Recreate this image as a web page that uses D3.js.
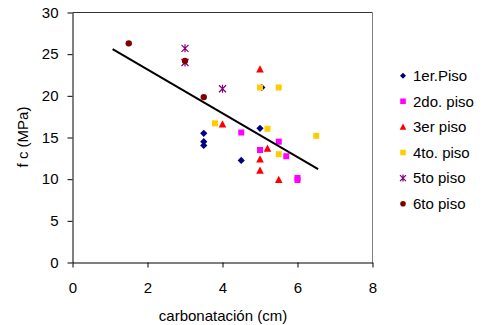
<!DOCTYPE html>
<html>
<head>
<meta charset="utf-8">
<style>
  body { margin: 0; background: #fff; }
  text { font-family: "Liberation Sans", Arial, sans-serif; fill: #000; }
</style>
</head>
<body>
<script src="https://cdn.jsdelivr.net/npm/d3@7"></script>
<script>

// data
var piso1 = [[3.5, 15.5], [3.5, 14.5], [3.5, 14.05], [4.5, 12.25], [5.0, 16.1], [5.05, 21.0]];
var piso2 = [[4.5, 15.6], [5.5, 14.5], [5.0, 13.5], [5.7, 12.75], [6.0, 10.15], [6.0, 9.9]];
var piso3 = [[5.0, 23.2], [4.0, 16.6], [5.2, 13.7], [5.0, 12.4], [5.0, 11.05], [5.5, 9.95]];
var piso4 = [[3.8, 16.7], [5.0, 21.0], [5.5, 21.0], [5.2, 16.05], [5.5, 13.0], [6.5, 15.2]];
var piso5 = [[3.0, 25.7], [3.0, 24.0], [4.0, 20.85]];
var piso6 = [[1.5, 26.3], [3.0, 24.2], [3.5, 19.85]];
var seriesNames = ["1er.Piso", "2do. piso", "3er piso", "4to. piso", "5to piso", "6to piso"];
var trendX = [1.07, 6.55];
var trendY = [25.6, 11.2];
var xTicks = [0, 2, 4, 6, 8];
var yTicks = [0, 5, 10, 15, 20, 25, 30];

var series = [
  {name: seriesNames[0], pts: piso1, shape: "diamond", color: "#000080"},
  {name: seriesNames[1], pts: piso2, shape: "square", color: "#ff00ff"},
  {name: seriesNames[2], pts: piso3, shape: "triangle", color: "#ff0000"},
  {name: seriesNames[3], pts: piso4, shape: "square", color: "#ffcc00"},
  {name: seriesNames[4], pts: piso5, shape: "star", color: "#800080"},
  {name: seriesNames[5], pts: piso6, shape: "circle", color: "#800000"}
];

var margin = {top: 12.5, left: 72.5},
    width = 300, height = 250;

var svg = d3.select("body").append("svg")
    .attr("width", 486)
    .attr("height", 325);

var g = svg.append("g")
    .attr("transform", "translate(" + margin.left + "," + margin.top + ")");

var x = d3.scaleLinear().domain([0, 8]).range([0, width]);
var y = d3.scaleLinear().domain([0, 30]).range([height, 0]);

// plot frame (top + right)
g.append("line").attr("x1", 0).attr("x2", width).attr("y1", 0).attr("y2", 0)
    .attr("stroke", "#333").attr("stroke-width", 1);
g.append("line").attr("x1", width).attr("x2", width).attr("y1", 0).attr("y2", height)
    .attr("stroke", "#808080").attr("stroke-width", 1);

var xAxis = d3.axisBottom(x).tickValues(xTicks).tickSize(5).tickSizeOuter(0).tickPadding(15);
var yAxis = d3.axisLeft(y).tickValues(yTicks).tickSize(5).tickSizeOuter(0).tickPadding(9);

g.append("g")
    .attr("transform", "translate(0," + height + ")")
    .call(xAxis);
g.append("g")
    .call(yAxis);

g.selectAll(".domain, .tick line").attr("stroke", "#000");
g.selectAll(".tick text").style("font-size", "15px").attr("fill", "#000");

// marker shapes
function markerPath(shape, s) {
  if (shape == "diamond") return "M0," + (-s) + "L" + s + ",0L0," + s + "L" + (-s) + ",0Z";
  if (shape == "square") return "M" + (-s) + "," + (-s) + "h" + (2 * s) + "v" + (2 * s) + "h" + (-2 * s) + "Z";
  if (shape == "triangle") return "M0," + (-s - 0.5) + "L" + (s + 0.5) + "," + (s) + "L" + (-s - 0.5) + "," + (s) + "Z";
  if (shape == "star") return "M" + (-s) + "," + (-s) + "L" + s + "," + s + "M" + (-s) + "," + s + "L" + s + "," + (-s) + "M0," + (-s - 0.5) + "L0," + (s + 0.5);
  return null;
}

function drawMarker(sel, d, size) {
  if (d.shape == "circle") {
    sel.append("circle").attr("r", size).attr("fill", d.color);
  } else if (d.shape == "star") {
    sel.append("path").attr("d", markerPath("star", size))
      .attr("stroke", d.color).attr("stroke-width", 1.2).attr("fill", "none");
  } else {
    sel.append("path").attr("d", markerPath(d.shape, size)).attr("fill", d.color);
  }
}

series.forEach(function(s) {
  var sizes = {diamond: 3.6, square: 3, triangle: 3.3, star: 3.5, circle: 3.2};
  g.selectAll(null)
      .data(s.pts)
    .enter().append("g")
      .attr("transform", function(d) { return "translate(" + x(d[0]) + "," + y(d[1]) + ")"; })
      .each(function() { drawMarker(d3.select(this), s, sizes[s.shape]); });
});

// trend line
g.append("line")
    .attr("x1", x(trendX[0])).attr("y1", y(trendY[0]))
    .attr("x2", x(trendX[1])).attr("y2", y(trendY[1]))
    .attr("stroke", "#000").attr("stroke-width", 2);

// axis titles
svg.append("text")
    .attr("text-anchor", "middle")
    .attr("x", 223).attr("y", 321)
    .style("font-size", "15px")
    .text("carbonatación (cm)");

svg.append("text")
    .attr("text-anchor", "middle")
    .attr("transform", "translate(28,137)rotate(-90)")
    .style("font-size", "15px")
    .text("f c (MPa)");

// legend
var legend = svg.selectAll(".legend")
    .data(series)
  .enter().append("g")
    .attr("class", "legend")
    .attr("transform", function(d, i) { return "translate(403," + (75.7 + i * 25.6) + ")"; });

legend.each(function(d) {
  var sz = {diamond: 3, square: 2.8, triangle: 2.8, star: 3, circle: 2.8};
  drawMarker(d3.select(this), d, sz[d.shape]);
});

legend.append("text")
    .attr("x", 10)
    .attr("dy", "0.35em")
    .style("font-size", "15px")
    .text(function(d) { return d.name; });

</script>
</body>
</html>
